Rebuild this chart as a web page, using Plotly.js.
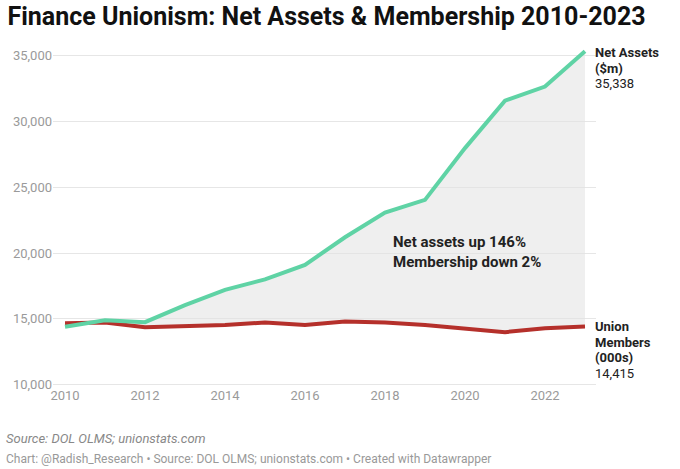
<!DOCTYPE html>
<html>
<head>
<meta charset="utf-8">
<script src="https://cdn.plot.ly/plotly-3.0.1.min.js"></script>
<style>
  html, body { margin: 0; padding: 0; background: #fff; }
  #chart { width: 680px; height: 469px; }
</style>
</head>
<body>
<div id="chart"></div>
<script>
// values
const years = [2010, 2011, 2012, 2013, 2014, 2015, 2016, 2017, 2018, 2019, 2020, 2021, 2022, 2023];
const netAssets = [14400, 14900, 14750, 16050, 17200, 18000, 19100, 21200, 23080, 24040, 27970, 31570, 32650, 35338];
const members = [14670, 14720, 14370, 14470, 14540, 14720, 14540, 14800, 14720, 14540, 14290, 13990, 14290, 14415];
const yTicks = [10000, 15000, 20000, 25000, 30000, 35000];
const xTicks = [2010, 2012, 2014, 2016, 2018, 2020, 2022];
const assetLabel = ['<b>Net Assets</b>', '<b>($m)</b>'];
const memberLabel = ['<b>Union</b>', '<b>Members</b>', '<b>(000s)</b>'];

const green = '#5fd3a5';
const red = '#b5302b';
const last = years.length - 1;
const fnt = 'Roboto, "Liberation Sans", sans-serif';

const traces = [
    {x: years, y: members, mode: 'lines', line: {color: red, width: 4}, showlegend: false, hoverinfo: 'skip'},
    {x: years, y: netAssets, mode: 'lines', line: {color: green, width: 4}, fill: 'tonexty',
        fillcolor: 'rgba(225,225,225,0.55)', showlegend: false, hoverinfo: 'skip'}
];

// end labels, one annotation per line so the spacing stays tight
function endLabel(lines, yVal, firstShift) {
    const out = [];
    lines.forEach(function (txt, i) {
        out.push({
            xref: 'x', yref: 'y', x: years[last], y: yVal,
            xanchor: 'left', yanchor: 'middle', xshift: 8, yshift: firstShift - i * 15.5,
            align: 'left', showarrow: false, text: txt,
            font: {family: fnt, size: 13, color: '#222'}
        });
    });
    return out;
}

const annotations = []
    .concat(endLabel(assetLabel.concat([netAssets[last].toLocaleString('en-US')]), netAssets[last], -1.5))
    .concat(endLabel(memberLabel.concat([members[last].toLocaleString('en-US')]), members[last], 0));

annotations.push(
    {
        xref: 'x', yref: 'y', x: 2018.15, y: 20050,
        xanchor: 'left', yanchor: 'middle', align: 'left', showarrow: false,
        text: '<b>Net assets up 146%</b><br><b>Membership down 2%</b>',
        font: {family: fnt, size: 15, color: '#222'}
    },
    {
        xref: 'paper', yref: 'paper', x: -0.09, y: -0.127,
        xanchor: 'left', yanchor: 'top', showarrow: false,
        text: '<i>Source: DOL OLMS; unionstats.com</i>',
        font: {family: fnt, size: 13, color: '#888'}
    },
    {
        xref: 'paper', yref: 'paper', x: -0.09, y: -0.19,
        xanchor: 'left', yanchor: 'top', showarrow: false,
        text: 'Chart: @Radish_Research \u2022 Source: DOL OLMS; unionstats.com \u2022 Created with Datawrapper',
        font: {family: fnt, size: 12, color: '#999'}
    }
);

const layout = {
    width: 680,
    height: 469,
    margin: {l: 53, r: 84, t: 49, b: 83},
    paper_bgcolor: '#fff',
    plot_bgcolor: '#fff',
    font: {family: fnt, color: '#333'},
    title: {
        text: '<b>Finance Unionism: Net Assets & Membership 2010-2023</b>',
        x: 0.011, xanchor: 'left', y: 0.983, yanchor: 'top',
        font: {family: fnt, size: 25, color: '#111'}
    },
    xaxis: {
        range: [2009.7, 2023.275],
        tickvals: xTicks,
        showgrid: false,
        zeroline: false,
        showline: false,
        ticks: '',
        tickfont: {family: fnt, size: 13, color: '#9a9a9a'}
    },
    yaxis: {
        range: [9900, 35500],
        tickvals: yTicks,
        tickformat: ',d',
        gridcolor: '#e6e6e6',
        gridwidth: 1,
        zeroline: false,
        showline: false,
        ticks: '',
        tickfont: {family: fnt, size: 13, color: '#9a9a9a'}
    },
    annotations: annotations
};

const config = {displayModeBar: false, staticPlot: true};

Plotly.newPlot('chart', traces, layout, config);
</script>
</body>
</html>
